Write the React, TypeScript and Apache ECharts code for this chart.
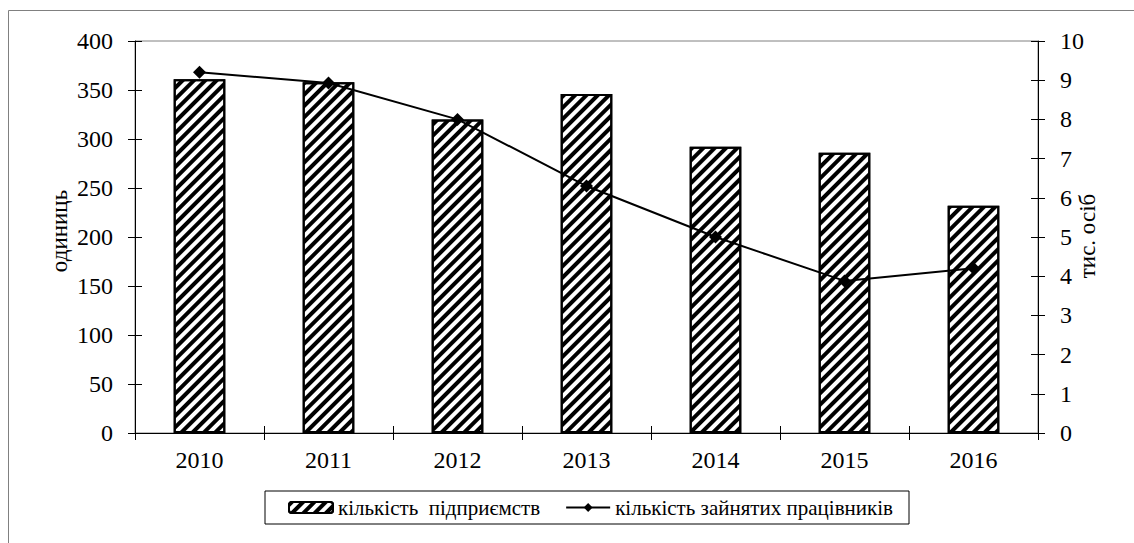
import React, { useEffect, useRef } from "react";
import * as echarts from "echarts";

const years = ["2010", "2011", "2012", "2013", "2014", "2015", "2016"];
const enterprises = [361, 358, 320, 346, 292, 286, 232];
const employees = [9.2, 8.93, 8.0, 6.3, 5.0, 3.88, 4.2];
const barName = "кількість  підприємств";
const lineName = "кількість зайнятих працівників";
const leftName = "одиниць";
const rightName = "тис. осіб";

const FONT = "Liberation Serif";

export default function App() {
  const ref = useRef<HTMLDivElement>(null);
  useEffect(() => {
    if (!ref.current) return;
    const chart = echarts.init(ref.current, null, { renderer: "svg" });
    const decal = {
      symbol: "rect",
      symbolSize: 1,
      color: "#000",
      backgroundColor: "#fff",
      dashArrayX: [[1, 0]],
      dashArrayY: [4, 4],
      rotation: -Math.PI / 4,
    };
    const tickStyle = { color: "#000", width: 1 };
    const labelStyle = { fontFamily: FONT, fontSize: 24, color: "#000" };
    chart.setOption({
      animation: false,
      backgroundColor: "#fff",
      textStyle: { fontFamily: FONT, color: "#000" },
      grid: {
        left: 135,
        right: 96,
        top: 41,
        bottom: 110,
        show: true,
        borderColor: "#808080",
        borderWidth: 1,
        backgroundColor: "transparent",
      },
      legend: {
        left: 265,
        top: 491,
        itemWidth: 44,
        itemHeight: 11,
        itemGap: 25,
        padding: [6, 16, 6, 23],
        borderColor: "#000",
        borderWidth: 1,
        textStyle: { fontFamily: FONT, fontSize: 21, color: "#000" },
        data: [
          { name: barName, itemStyle: { borderColor: "#000", borderWidth: 2 } },
          { name: lineName },
        ],
      },
      xAxis: [
        {
          type: "category",
          data: years,
          axisLine: { lineStyle: { color: "#000", width: 1 } },
          axisTick: { show: true, length: 7, lineStyle: tickStyle },
          axisLabel: { ...labelStyle, margin: 15 },
        },
        {
          type: "category",
          data: years,
          position: "bottom",
          axisLine: { show: false },
          axisTick: { show: true, inside: true, length: 7, lineStyle: tickStyle },
          axisLabel: { show: false },
        },
      ],
      yAxis: [
        {
          type: "value",
          min: 0,
          max: 400,
          interval: 50,
          position: "left",
          axisLine: { show: true, lineStyle: { color: "#000" } },
          axisTick: { show: true, length: 7, lineStyle: tickStyle },
          axisLabel: { ...labelStyle, margin: 22 },
          splitLine: { show: false },
        },
        {
          type: "value",
          min: 0,
          max: 10,
          interval: 1,
          position: "right",
          axisLine: { show: true, lineStyle: { color: "#000" } },
          axisTick: { show: true, length: 7, lineStyle: tickStyle },
          axisLabel: { ...labelStyle, margin: 22 },
          splitLine: { show: false },
        },
        {
          type: "value",
          min: 0,
          max: 400,
          interval: 50,
          position: "left",
          axisLine: { show: false },
          axisTick: { show: true, inside: true, length: 7, lineStyle: tickStyle },
          axisLabel: { show: false },
          splitLine: { show: false },
        },
        {
          type: "value",
          min: 0,
          max: 10,
          interval: 1,
          position: "right",
          axisLine: { show: false },
          axisTick: { show: true, inside: true, length: 7, lineStyle: tickStyle },
          axisLabel: { show: false },
          splitLine: { show: false },
        },
      ],
      series: [
        {
          name: barName,
          type: "bar",
          data: enterprises,
          barWidth: "40%",
          yAxisIndex: 0,
          itemStyle: { color: "#fff", borderColor: "#000", borderWidth: 2, decal },
        },
        {
          name: lineName,
          type: "line",
          data: employees,
          yAxisIndex: 1,
          symbol: "diamond",
          symbolSize: 13,
          showSymbol: true,
          lineStyle: { color: "#000", width: 2 },
          itemStyle: { color: "#000" },
        },
      ],
      graphic: [
        {
          type: "rect",
          shape: { x: 8.5, y: 10.5, width: 1400, height: 800 },
          style: { fill: "none", stroke: "#808080", lineWidth: 1 },
          silent: true,
          z: -1,
        },
        {
          type: "text",
          x: 59,
          y: 231,
          rotation: Math.PI / 2,
          style: {
            text: leftName,
            fontFamily: FONT,
            fontSize: 23,
            fill: "#000",
            align: "center",
            verticalAlign: "middle",
          },
        },
        {
          type: "text",
          x: 1087,
          y: 236,
          rotation: Math.PI / 2,
          style: {
            text: rightName,
            fontFamily: FONT,
            fontSize: 23,
            fill: "#000",
            align: "center",
            verticalAlign: "middle",
          },
        },
      ],
    });
    return () => chart.dispose();
  }, []);
  return <div ref={ref} style={{ width: 1134, height: 543, position: "absolute", left: 0, top: 0 }} />;
}
